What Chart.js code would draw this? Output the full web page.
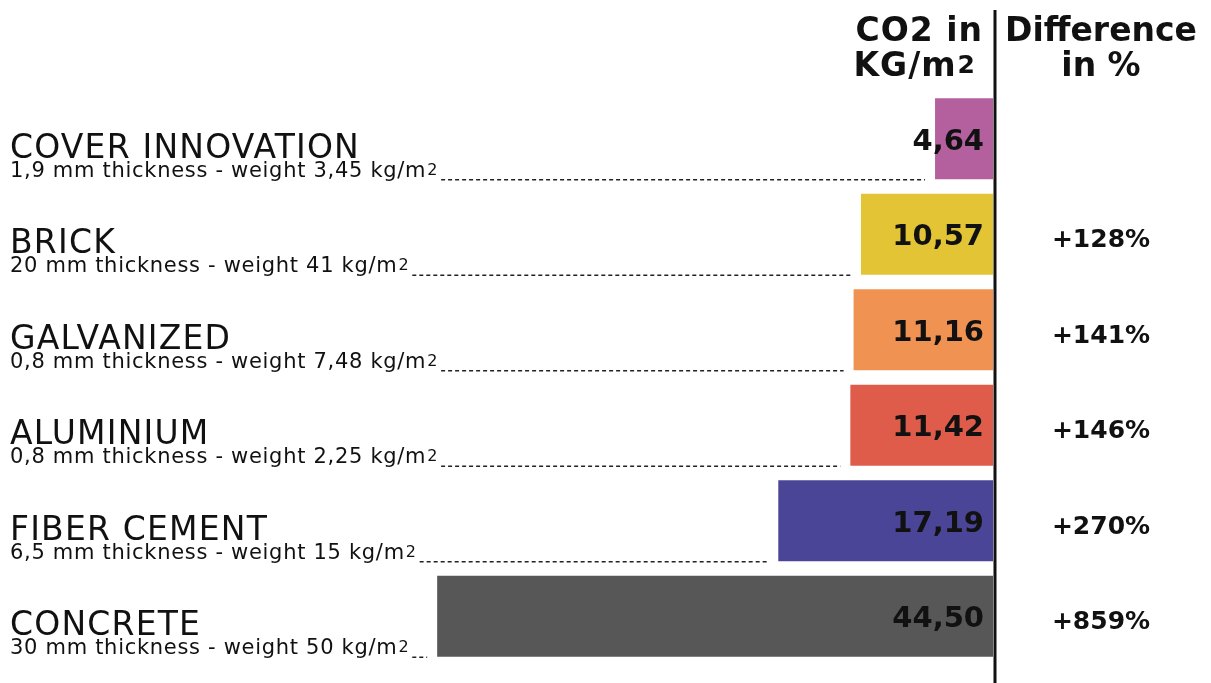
<!DOCTYPE html>
<html>
<head>
<meta charset="utf-8">
<script src="https://cdn.jsdelivr.net/npm/chart.js@4/dist/chart.umd.min.js"></script>
<style>
  html, body { margin: 0; padding: 0; background: #fff; }
  #wrap { width: 1211px; height: 683px; position: relative; }
</style>
</head>
<body>
<div id="wrap"><canvas id="co2Chart"></canvas></div>
<script>
// materials, from top to bottom
const materials = ['COVER INNOVATION', 'BRICK', 'GALVANIZED', 'ALUMINIUM', 'FIBER CEMENT', 'CONCRETE'];
const specs = [
    '1,9 mm thickness - weight 3,45 kg/m',
    '20 mm thickness - weight 41 kg/m',
    '0,8 mm thickness - weight 7,48 kg/m',
    '0,8 mm thickness - weight 2,25 kg/m',
    '6,5 mm thickness - weight 15 kg/m',
    '30 mm thickness - weight 50 kg/m'
];
const co2 = [4.64, 10.57, 11.16, 11.42, 17.19, 44.50]; // CO2 in kg/m2
const diffLabels = ['', '+128%', '+141%', '+146%', '+270%', '+859%'];
const barColors = ['#b4609f', '#e2c434', '#f09252', '#e05c4a', '#4a4597', '#575757'];

const FONT = '"DejaVu Sans", sans-serif';

// text with a small "2" after it (m2)
function textSq(ctx, str, x, y, size, weight, align) {
    ctx.font = weight + ' ' + size + 'px ' + FONT;
    const w1 = ctx.measureText(str).width;
    ctx.font = weight + ' ' + Math.round(size * 0.75) + 'px ' + FONT;
    const w2 = ctx.measureText('2').width;
    let x0 = x;
    if (align === 'right') x0 = x - w1 - w2 - 1;
    ctx.textAlign = 'left';
    ctx.font = weight + ' ' + size + 'px ' + FONT;
    ctx.fillText(str, x0, y);
    ctx.font = weight + ' ' + Math.round(size * 0.75) + 'px ' + FONT;
    ctx.fillText('2', x0 + w1 + 1, y - size * 0.1);
    return x0 + w1 + 1 + w2;
}

const infoPlugin = {
    id: 'info',
    afterDatasetsDraw(chart) {
        const ctx = chart.ctx;
        const meta = chart.getDatasetMeta(0);
        const right = chart.chartArea.right;
        ctx.save();
        ctx.fillStyle = '#111';
        ctx.textBaseline = 'alphabetic';

        // header
        ctx.font = 'bold 33px ' + FONT;
        ctx.textAlign = 'right';
        ctx.letterSpacing = '1px';
        ctx.fillText('CO2 in', right - 10, 41);
        textSq(ctx, 'KG/m', right - 17, 76, 33, 'bold', 'right');
        ctx.textAlign = 'center';
        ctx.font = 'bold 33px ' + FONT;
        ctx.letterSpacing = '0px';
        ctx.fillText('Difference', 1101, 41);
        ctx.fillText('in %', 1101, 76);

        meta.data.forEach((bar, i) => {
            const bottom = bar.y + bar.height / 2;
            // name + spec
            ctx.fillStyle = '#111';
            ctx.textAlign = 'left';
            ctx.letterSpacing = '1.2px';
            ctx.font = '33px ' + FONT;
            ctx.fillText(materials[i], 10, bar.y + 19);
            ctx.letterSpacing = '0.7px';
            const endX = textSq(ctx, specs[i], 10, bar.y + 38, 21, 'normal', 'left');
            ctx.letterSpacing = '0px';
            // dotted leader
            ctx.strokeStyle = '#222';
            ctx.lineWidth = 1.5;
            ctx.setLineDash([4, 3]);
            ctx.beginPath();
            ctx.moveTo(endX + 3, bottom + 0.5);
            ctx.lineTo(Math.min(bar.x, bar.base) - 10, bottom + 0.5);
            ctx.stroke();
            ctx.setLineDash([]);
            // value
            ctx.fillStyle = '#111';
            ctx.textAlign = 'right';
            ctx.font = 'bold 29px ' + FONT;
            ctx.fillText(co2[i].toFixed(2).replace('.', ','), right - 9, bar.y + 11);
            // difference
            ctx.textAlign = 'center';
            ctx.font = 'bold 25px ' + FONT;
            ctx.fillText(diffLabels[i], 1101, bar.y + 13);
        });

        // divider
        ctx.strokeStyle = '#111';
        ctx.lineWidth = 3;
        ctx.beginPath();
        ctx.moveTo(right + 2, 10);
        ctx.lineTo(right + 2, 683);
        ctx.stroke();
        ctx.restore();
    }
};

const config = {
    type: 'bar',
    data: {
        labels: materials,
        datasets: [{
            data: co2,
            backgroundColor: barColors,
            borderWidth: 0,
            categoryPercentage: 1,
            barPercentage: 0.85
        }]
    },
    options: {
        indexAxis: 'y',
        responsive: false,
        animation: false,
        layout: { padding: { top: 91, bottom: 19, left: 0, right: 218 } },
        plugins: { legend: { display: false }, tooltip: { enabled: false } },
        scales: {
            x: { display: false, reverse: true, min: 0, max: 79.5 },
            y: { display: false }
        }
    },
    plugins: [infoPlugin]
};

window.onload = function () {
    const canvas = document.getElementById('co2Chart');
    canvas.width = 1211;
    canvas.height = 683;
    new Chart(canvas.getContext('2d'), config);
};
</script>
</body>
</html>
